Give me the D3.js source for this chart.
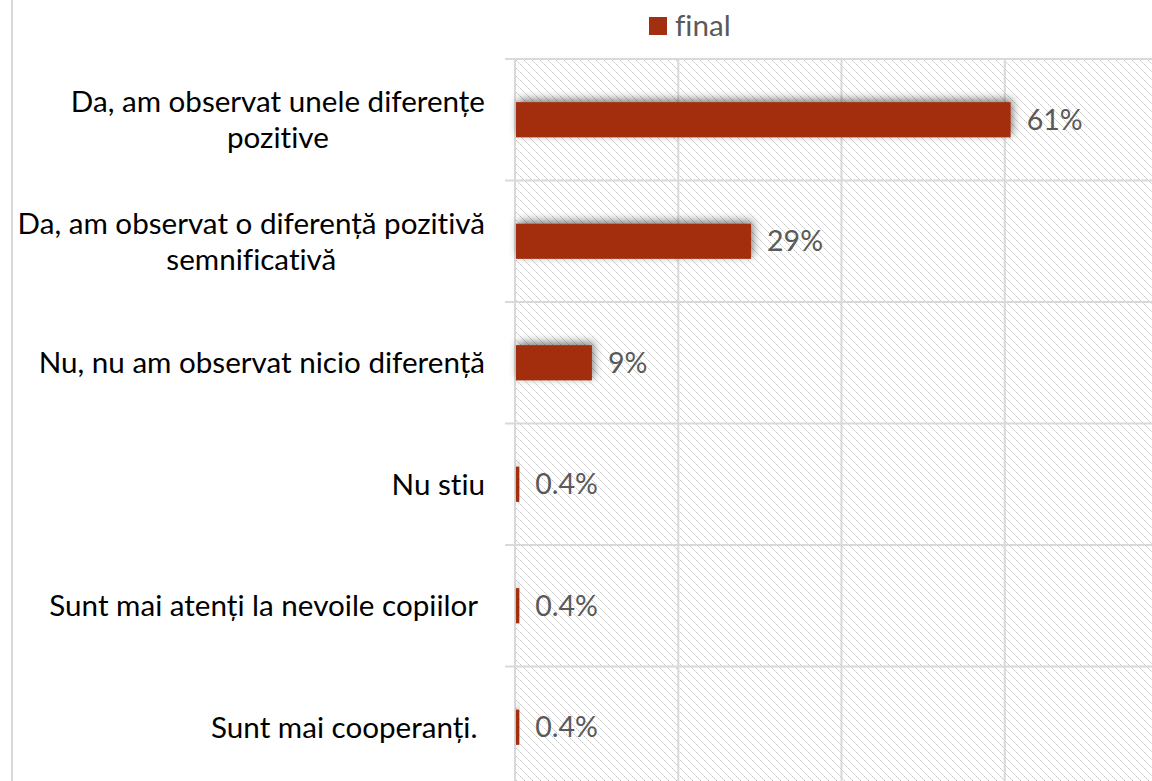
<!DOCTYPE html>
<html>
<head>
<meta charset="utf-8">
<script src="https://cdn.jsdelivr.net/npm/d3@7"></script>
<style>
	html, body { margin: 0; padding: 0; background: #fff; }
	svg { display: block; }
	text { font-family: Lato, 'Open Sans', sans-serif; font-variant-ligatures: none; }
</style>
</head>
<body>
<svg></svg>
<script>
const width = 1152;
const height = 781;

// data
const categories = [
	'Da, am observat unele diferențe\npozitive',
	'Da, am observat o diferență pozitivă\nsemnificativă',
	'Nu, nu am observat nicio diferență',
	'Nu stiu',
	'Sunt mai atenți la nevoile copiilor ',
	'Sunt mai cooperanți. ',
];
const values = [60.6, 28.8, 9.3, 0.4, 0.4, 0.4];
const valueLabels = ['61%', '29%', '9%', '0.4%', '0.4%', '0.4%'];
const xTicks = [0, 20, 40, 60, 80];
const seriesName = 'final';

const barColor = '#a32f11';
const gridColor = '#d9d9d9';
const fontSize = 29.6;
const valueFontSize = 28.5;

const svg = d3.select('svg').attr('width', width).attr('height', height);
const defs = svg.append('defs');

// light downward diagonal hatch
const pat = defs
	.append('pattern')
	.attr('id', 'hatch')
	.attr('patternUnits', 'userSpaceOnUse')
	.attr('width', 8)
	.attr('height', 8);
[0, 2, 4, 6].forEach((i) => {
	pat.append('rect').attr('x', i).attr('y', i).attr('width', 1).attr('height', 1).attr('fill', '#c4c4c4');
	pat.append('rect').attr('x', i + 1).attr('y', i + 1).attr('width', 1).attr('height', 1).attr('fill', '#e0e0e0');
});

const shadow = defs
	.append('filter')
	.attr('id', 'shadow')
	.attr('x', '-20%')
	.attr('y', '-60%')
	.attr('width', '140%')
	.attr('height', '220%');
shadow
	.append('feDropShadow')
	.attr('dx', 2)
	.attr('dy', -3)
	.attr('stdDeviation', 4)
	.attr('flood-color', '#000')
	.attr('flood-opacity', 0.5);

const x = d3.scaleLinear().domain([0, 80]).range([515, 1168]);
const y = d3.scaleBand().domain(categories).range([59, 788]).paddingInner(0.71).paddingOuter(0.355);

const bandTop = (c) => y(c) - y.step() * y.paddingInner() / 2;

// chart border at the far left
svg.append('line').attr('x1', 12).attr('x2', 12).attr('y1', 0).attr('y2', height).attr('stroke', gridColor).attr('stroke-width', 2);

// plot area background
svg
	.append('rect')
	.attr('x', x(0))
	.attr('y', y.range()[0])
	.attr('width', x(80) - x(0))
	.attr('height', y.range()[1] - y.range()[0])
	.attr('fill', 'url(#hatch)');

// vertical gridlines
svg
	.append('g')
	.selectAll('line')
	.data(xTicks)
	.join('line')
	.attr('x1', (d) => x(d))
	.attr('x2', (d) => x(d))
	.attr('y1', y.range()[0])
	.attr('y2', y.range()[1])
	.attr('stroke', gridColor)
	.attr('stroke-width', 2);

// horizontal category separators (with outside ticks)
svg
	.append('g')
	.selectAll('line')
	.data(categories.concat(['__end']))
	.join('line')
	.attr('x1', 505)
	.attr('x2', width)
	.attr('y1', (d, i) => y.range()[0] + i * y.step())
	.attr('y2', (d, i) => y.range()[0] + i * y.step())
	.attr('stroke', gridColor)
	.attr('stroke-width', 2);

// bars
svg
	.append('g')
	.selectAll('rect')
	.data(values)
	.join('rect')
	.attr('x', x(0) + 1)
	.attr('y', (d, i) => y(categories[i]))
	.attr('width', (d) => x(d) - x(0))
	.attr('height', y.bandwidth())
	.attr('fill', barColor)
	.attr('filter', 'url(#shadow)');

// value labels
svg
	.append('g')
	.selectAll('text')
	.data(values)
	.join('text')
	.attr('x', (d) => x(d) + 17)
	.attr('y', (d, i) => y(categories[i]) + y.bandwidth() / 2)
	.attr('dy', '0.35em')
	.attr('font-size', valueFontSize)
	.attr('fill', '#595959')
	.text((d, i) => valueLabels[i]);

// category labels, lines centred inside a right-aligned block
const labelRight = 485;
const lineH = fontSize * 1.22;
const labels = svg.append('g');
categories.forEach((c) => {
	const lines = c.split('\n');
	const cy = bandTop(c) + y.step() / 2;
	const t = labels
		.append('text')
		.attr('font-size', fontSize)
		.attr('fill', '#000')
		.style('white-space', 'pre');
	const spans = lines.map((ln, j) =>
		t
			.append('tspan')
			.attr('y', cy + (j - (lines.length - 1) / 2) * lineH)
			.attr('dy', '0.35em')
			.text(ln)
	);
	const widths = spans.map((s) => s.node().getComputedTextLength());
	const w = d3.max(widths);
	spans.forEach((s, j) => s.attr('x', labelRight - w + (w - widths[j]) / 2));
});

// legend
const legend = svg.append('g');
legend.append('rect').attr('x', 649).attr('y', 17).attr('width', 18).attr('height', 18).attr('fill', barColor);
legend
	.append('text')
	.attr('x', 675)
	.attr('y', 26)
	.attr('dy', '0.35em')
	.attr('font-size', fontSize)
	.attr('fill', '#595959')
	.text(seriesName);
</script>
</body>
</html>
